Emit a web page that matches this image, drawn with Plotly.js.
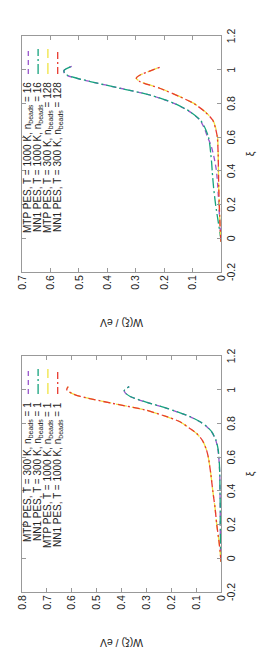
<!DOCTYPE html>
<html>
<head>
<meta charset="utf-8">
<script src="https://cdn.plot.ly/plotly-3.0.1.min.js"></script>
<style>
html,body{margin:0;padding:0;background:#fff;overflow:hidden;width:264px;height:660px;}
#wrap{position:absolute;left:0;top:0;width:660px;height:264px;transform-origin:0 0;transform:translate(0,660px) rotate(-90deg);}
</style>
</head>
<body>
<div id="wrap"></div>
<script>
// ---- axis ticks ----
const xiTickVals = [-0.2, 0, 0.2, 0.4, 0.6, 0.8, 1.0, 1.2];
const xiTickText = ['-0.2', '0', '0.2', '0.4', '0.6', '0.8', '1', '1.2'];
const wTickValsA = [0, 0.1, 0.2, 0.3, 0.4, 0.5, 0.6, 0.7, 0.8];
const wTickTextA = ['0', '0.1', '0.2', '0.3', '0.4', '0.5', '0.6', '0.7', '0.8'];
const wTickValsB = [0, 0.1, 0.2, 0.3, 0.4, 0.5, 0.6, 0.7];
const wTickTextB = ['0', '0.1', '0.2', '0.3', '0.4', '0.5', '0.6', '0.7'];

// ---- panel A: n_beads = 1 ----
const namesA = ['MTP PES, T = 300 K, n<sub>beads</sub> = 1', 'NN1 PES, T = 300 K, n<sub>beads</sub> = 1',
                'MTP PES, T = 1000 K, n<sub>beads</sub> = 1', 'NN1 PES, T = 1000 K, n<sub>beads</sub> = 1'];
const xiA300 = [-0.02, 0, 0.1, 0.2, 0.3, 0.4, 0.5, 0.6, 0.65, 0.7, 0.75, 0.78, 0.81, 0.84, 0.89, 0.925, 0.96, 0.98, 0.995, 1.005, 1.018];
const wA300mtp = [0, 0.001, 0.002, 0.003, 0.003, 0.004, 0.005, 0.009, 0.013, 0.021, 0.038, 0.057, 0.085, 0.125, 0.218, 0.299, 0.366, 0.384, 0.389, 0.383, 0.369];
const wA300nn1 = [0, 0.001, 0.002, 0.003, 0.003, 0.004, 0.005, 0.008, 0.012, 0.020, 0.037, 0.056, 0.084, 0.124, 0.217, 0.298, 0.365, 0.384, 0.389, 0.383, 0.369];
const xiA1000 = [-0.02, 0, 0.1, 0.2, 0.3, 0.4, 0.5, 0.6, 0.65, 0.7, 0.74, 0.77, 0.81, 0.84, 0.88, 0.92, 0.96, 0.975, 0.99, 1.0, 1.01, 1.018];
const wA1000mtp = [0, 0.001, 0.008, 0.017, 0.024, 0.033, 0.041, 0.051, 0.060, 0.075, 0.098, 0.125, 0.165, 0.218, 0.305, 0.44, 0.565, 0.595, 0.614, 0.620, 0.618, 0.614];
const wA1000nn1 = [0, 0.001, 0.008, 0.017, 0.024, 0.033, 0.041, 0.051, 0.060, 0.075, 0.098, 0.125, 0.165, 0.218, 0.305, 0.44, 0.565, 0.595, 0.614, 0.620, 0.618, 0.614];

// ---- panel B: n_beads = 16 / 128 ----
const namesB = ['MTP PES, T = 1000 K, n<sub>beads</sub> = 16', 'NN1 PES, T = 1000 K, n<sub>beads</sub> = 16',
                'MTP PES, T = 300 K, n<sub>beads</sub> = 128', 'NN1 PES, T = 300 K, n<sub>beads</sub> = 128'];
const xiB1000 = [-0.02, 0, 0.1, 0.2, 0.3, 0.4, 0.45, 0.5, 0.55, 0.6, 0.65, 0.7, 0.75, 0.8, 0.85, 0.89, 0.93, 0.965, 0.98, 0.995, 1.005, 1.02];
const wB1000mtp = [0, 0.001, 0.004, 0.008, 0.011, 0.016, 0.021, 0.027, 0.035, 0.047, 0.058, 0.074, 0.109, 0.165, 0.25, 0.355, 0.461, 0.54, 0.551, 0.553, 0.546, 0.525];
const wB1000nn1 = [0, 0.001, 0.010, 0.019, 0.026, 0.031, 0.033, 0.036, 0.039, 0.044, 0.055, 0.072, 0.108, 0.163, 0.25, 0.355, 0.46, 0.538, 0.55, 0.552, 0.545, 0.525];
const xiB300 = [-0.02, 0, 0.1, 0.2, 0.3, 0.4, 0.5, 0.6, 0.65, 0.7, 0.75, 0.8, 0.84, 0.89, 0.93, 0.95, 0.97, 0.99, 1.015];
const wB300mtp = [0, 0.001, 0.004, 0.006, 0.008, 0.009, 0.010, 0.012, 0.018, 0.028, 0.055, 0.095, 0.144, 0.215, 0.285, 0.298, 0.283, 0.253, 0.215];
const wB300nn1 = [0, 0.001, 0.004, 0.006, 0.008, 0.009, 0.010, 0.013, 0.019, 0.029, 0.056, 0.096, 0.145, 0.216, 0.286, 0.298, 0.283, 0.253, 0.215];

const colors = ['#9a55cc', '#16a37e', '#f0e442', '#e83a30'];
const dashes = ['5px,4px', '10px,3px,2px,3px', '11px,5px', '7px,3px,2px,3px'];
const font = "'Liberation Sans', Arial, sans-serif";

function tr(x, y, i, name, xa, ya) {
  return {x: x, y: y, name: name, type: 'scatter', mode: 'lines', xaxis: xa, yaxis: ya,
          showlegend: false, hoverinfo: 'skip',
          line: {color: colors[i], width: 1.3, dash: dashes[i], shape: 'spline', smoothing: 0.7}};
}

const data = [
  tr(xiA300, wA300mtp, 0, namesA[0], 'x', 'y'),
  tr(xiA300, wA300nn1, 1, namesA[1], 'x', 'y'),
  tr(xiA1000, wA1000mtp, 2, namesA[2], 'x', 'y'),
  tr(xiA1000, wA1000nn1, 3, namesA[3], 'x', 'y'),
  tr(xiB1000, wB1000mtp, 0, namesB[0], 'x2', 'y2'),
  tr(xiB1000, wB1000nn1, 1, namesB[1], 'x2', 'y2'),
  tr(xiB300, wB300mtp, 2, namesB[2], 'x2', 'y2'),
  tr(xiB300, wB300nn1, 3, namesB[3], 'x2', 'y2')
];

const W = 660, H = 264;
const yDom = [1 - 221 / H, 1 - 22 / H];
const domA = [68 / W, 304 / W];
const domB = [388 / W, 624 / W];

function xax(dom, anchor) {
  return {domain: dom, anchor: anchor, range: [-0.2, 1.2], tickvals: xiTickVals, ticktext: xiTickText,
          ticks: 'inside', ticklen: 4, tickcolor: '#999', showline: true, linecolor: '#999', linewidth: 1,
          mirror: 'ticks', showgrid: false, zeroline: false, automargin: false,
          tickfont: {family: font, size: 10.5, color: '#222'},
          title: {text: 'ξ', font: {family: font, size: 10.5, color: '#222'}, standoff: 11}};
}
function yax(range, tv, tt, anchor) {
  return {domain: yDom, anchor: anchor, range: range, tickvals: tv, ticktext: tt,
          ticks: 'inside', ticklen: 4, tickcolor: '#999', showline: true, linecolor: '#999', linewidth: 1,
          mirror: 'ticks', showgrid: false, zeroline: false, automargin: false,
          tickfont: {family: font, size: 10.5, color: '#222'},
          title: {text: 'W(ξ) / eV', font: {family: font, size: 10.5, color: '#222'}, standoff: 26}};
}

const legY = [28.3, 38.1, 47.9, 57.7];
const annotations = [];
const shapes = [];
function legend(names, textRight, s0, s1) {
  names.forEach((n, i) => {
    annotations.push({xref: 'paper', yref: 'paper', x: textRight / W, y: 1 - legY[i] / H,
      xanchor: 'right', yanchor: 'middle', showarrow: false, text: n,
      font: {family: font, size: 10, color: '#222'}});
    shapes.push({type: 'line', xref: 'paper', yref: 'paper', x0: s0 / W, x1: s1 / W,
      y0: 1 - legY[i] / H, y1: 1 - legY[i] / H,
      line: {color: colors[i], width: 1.3, dash: dashes[i]}});
  });
}
legend(namesA, 260, 266, 291);
legend(namesB, 580, 586, 611);

const layout = {
  width: W, height: H, margin: {l: 0, r: 0, t: 0, b: 0},
  paper_bgcolor: '#fff', plot_bgcolor: '#fff', showlegend: false,
  font: {family: font, size: 10.5, color: '#222'},
  xaxis: xax(domA, 'y'), yaxis: yax([0, 0.8], wTickValsA, wTickTextA, 'x'),
  xaxis2: xax(domB, 'y2'), yaxis2: yax([0, 0.7], wTickValsB, wTickTextB, 'x2'),
  annotations: annotations, shapes: shapes
};

Plotly.newPlot('wrap', data, layout, {staticPlot: true, displayModeBar: false});
</script>
</body>
</html>
